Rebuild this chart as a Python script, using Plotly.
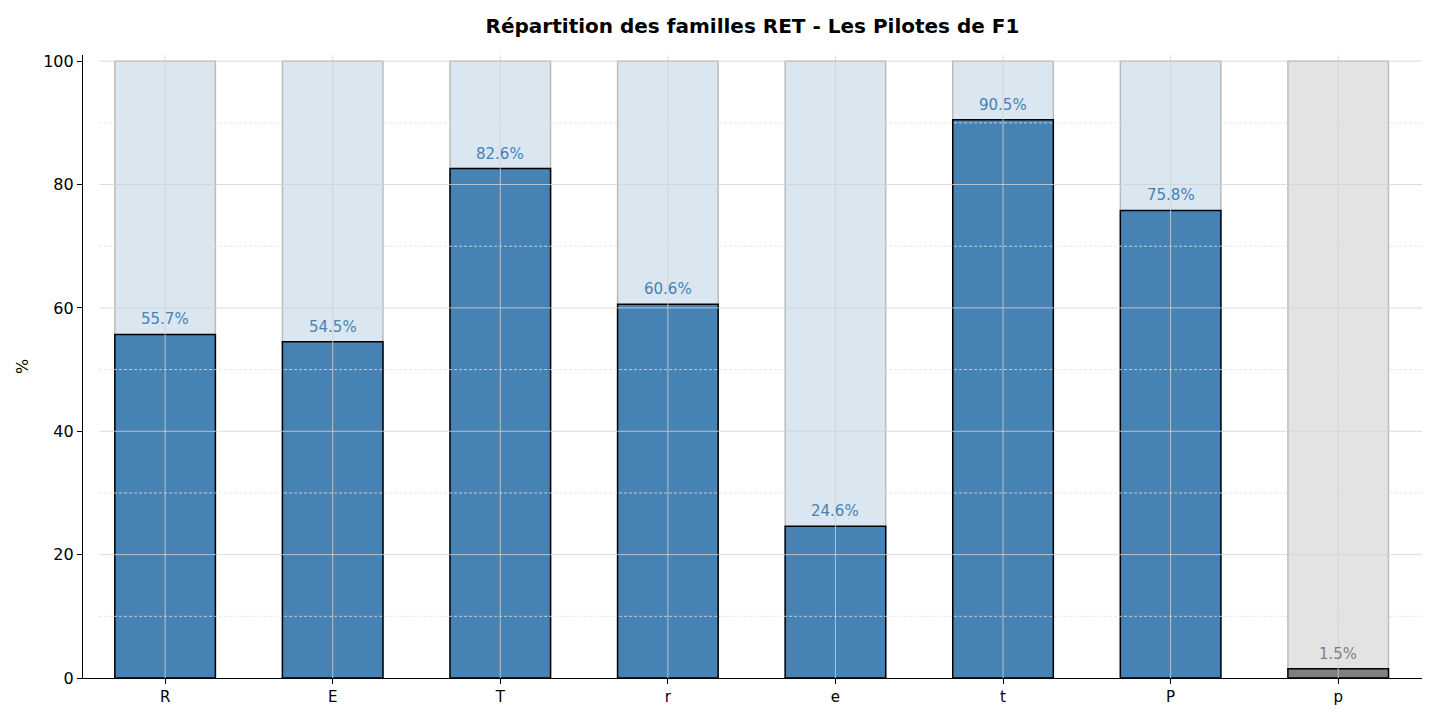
import plotly.graph_objects as go

categories = ["R", "E", "T", "r", "e", "t", "P", "p"]
values = [55.7, 54.5, 82.6, 60.6, 24.6, 90.5, 75.8, 1.5]
bar_colors = ["#4682B4"] * 7 + ["#808080"]
bg_colors = ["#dae6f0"] * 7 + ["#e3e3e3"]
label_colors = ["#4682B4"] * 7 + ["#808080"]
major_ticks = [0, 20, 40, 60, 80, 100]
minor_ticks = [10, 30, 50, 70, 90]
title = "Répartition des familles RET - Les Pilotes de F1"

x = list(range(len(categories)))
fig = go.Figure()
fig.add_trace(go.Bar(x=x, y=[100] * len(x), width=0.6, marker=dict(color=bg_colors,
                     line=dict(color="#bcbcbc", width=1.5)), hoverinfo="skip", showlegend=False))
fig.add_trace(go.Bar(x=x, y=values, width=0.6, marker=dict(color=bar_colors,
                     line=dict(color="black", width=1.5)), showlegend=False))

shapes = []
for xi in x:
    shapes.append(dict(type="line", xref="x", yref="paper", x0=xi, x1=xi, y0=0, y1=1,
                       line=dict(color="rgba(210,210,210,0.8)", width=1), layer="above"))
for t in major_ticks[1:]:
    shapes.append(dict(type="line", xref="paper", yref="y", x0=0.012, x1=1, y0=t, y1=t,
                       line=dict(color="rgba(210,210,210,0.8)", width=1), layer="above"))
for t in minor_ticks:
    shapes.append(dict(type="line", xref="paper", yref="y", x0=0.012, x1=1, y0=t, y1=t,
                       line=dict(color="rgba(225,225,225,0.8)", width=1, dash="3px,2px"), layer="above"))

annotations = []
for xi, v, c in zip(x, values, label_colors):
    annotations.append(dict(x=xi, y=v, text=f"{v:.1f}%", showarrow=False, yanchor="bottom",
                            yshift=4, font=dict(color=c, size=15, family="DejaVu Sans")))

fig.update_layout(
    barmode="overlay",
    width=1437, height=719,
    margin=dict(l=75, r=23, t=47, b=49),
    plot_bgcolor="white", paper_bgcolor="white",
    font=dict(family="DejaVu Sans", size=15, color="black"),
    title=dict(text=f"<b>{title}</b>", x=0.5, xref="paper", xanchor="center", y=0.985, yanchor="top",
               font=dict(size=20, family="DejaVu Sans")),
    shapes=shapes,
    annotations=annotations,
    xaxis=dict(range=[-0.49, 7.5], tickmode="array", tickvals=x, ticktext=categories,
               showgrid=False, showline=True, linecolor="black", linewidth=1.2,
               ticks="outside", ticklen=5, tickcolor="black", zeroline=False,
               tickfont=dict(size=15), automargin=False),
    yaxis=dict(range=[0, 101], tickmode="array", tickvals=major_ticks, showgrid=False,
               showline=True, linecolor="black", linewidth=1.2, ticks="outside", ticklen=5,
               tickcolor="black", zeroline=False, tickfont=dict(size=16), automargin=False,
               title=dict(text="%", standoff=10, font=dict(size=16))),
)
fig.write_html("out.html")
